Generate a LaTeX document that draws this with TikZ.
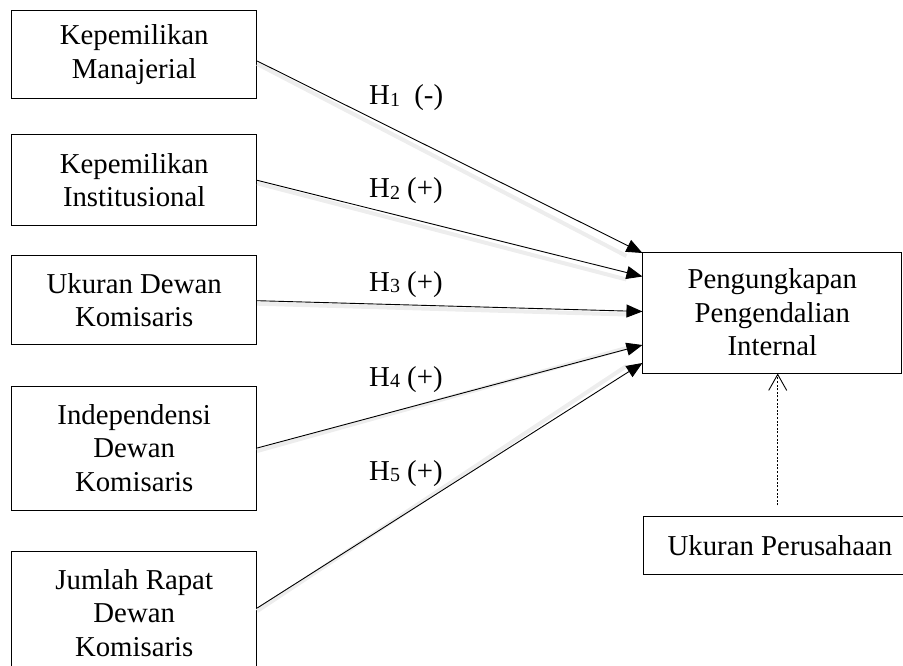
\documentclass[tikz,border=0pt]{standalone}
\usepackage{fontspec}
\setmainfont{Liberation Serif}
\usetikzlibrary{arrows.meta,calc}
\newcommand\hsub[1]{\raisebox{-1.5pt}{\fontsize{20}{20}\selectfont #1}}
\begin{document}
\begin{tikzpicture}[x=1pt,y=-1pt,
 box/.style={draw,line width=1pt,align=center,inner sep=0pt,font=\fontsize{28.8}{33.5}\selectfont},
 lbl/.style={anchor=base west,inner sep=0pt,font=\fontsize{28.8}{34}\selectfont},
 link/.style={line width=0.9pt,-{Triangle[length=16pt,width=13pt]}},
 shade/.style={line width=4pt,draw=black!7,transform canvas={yshift=-3pt}},
 ctrl/.style={line width=0.9pt,dash pattern=on 2pt off 1.6pt,-{Straight Barb[length=16pt,width=18pt]}}]
\useasboundingbox (0,0) rectangle (903,666);
\clip (0,0) rectangle (903,666);
\node[box,minimum width=245,minimum height=88.5] (b1) at (134.2,54.75) {Kepemilikan\\Manajerial};
\node[box,minimum width=245,minimum height=90.7] (b2) at (134.2,180.3) {Kepemilikan\\Institusional};
\node[box,minimum width=245,minimum height=89.3] (b3) at (134.2,300.3) {Ukuran Dewan\\Komisaris};
\node[box,minimum width=245,minimum height=124] (b4) at (134.2,448) {Independensi\\Dewan\\Komisaris};
\node[box,minimum width=245,minimum height=124] (b5) at (134.2,613) {Jumlah Rapat\\Dewan\\Komisaris};
\node[box,minimum width=258.7,minimum height=121] (t) at (772.3,312.5) {Pengungkapan\\Pengendalian\\Internal};
\node[box,minimum width=274,minimum height=58.3] (u) at (780,545.8) {Ukuran Perusahaan};
\begin{scope}
\draw[shade] ($(b1.east)+(0,6.25)$) -- ($(t.west)+(-16,-59.5)$);
\draw[shade] (b2.east) -- ($(t.west)+(-16,-36)$);
\draw[shade] ($(b3.east)+(0,0.4)$) -- ($(t.west)+(-16,-1)$);
\draw[shade] (b4.east) -- ($(t.west)+(-16,32.5)$);
\draw[shade] ($(b5.east)+(0,-5)$) -- ($(t.west)+(-16,50.5)$);
\end{scope}
\draw[link] ($(b1.east)+(0,6.25)$) -- ($(t.west)+(0,-59.5)$);
\draw[link] (b2.east) -- ($(t.west)+(0,-36)$);
\draw[link] ($(b3.east)+(0,0.4)$) -- ($(t.west)+(0,-1)$);
\draw[link] (b4.east) -- ($(t.west)+(0,32.5)$);
\draw[link] ($(b5.east)+(0,-5)$) -- ($(t.west)+(0,50.5)$);
\draw[ctrl] ($(u.north)+(-2.3,-10.7)$) -- ($(t.south)+(5.4,0)$);
\node[lbl] (h1) at (369,105) {H\hsub{1}\ \ (-)};
\node[lbl] (h2) at (369,198) {H\hsub{2} (+)};
\node[lbl] (h3) at (369,291) {H\hsub{3} (+)};
\node[lbl] (h4) at (369,386) {H\hsub{4} (+)};
\node[lbl] (h5) at (369,480) {H\hsub{5} (+)};
\end{tikzpicture}
\end{document}
